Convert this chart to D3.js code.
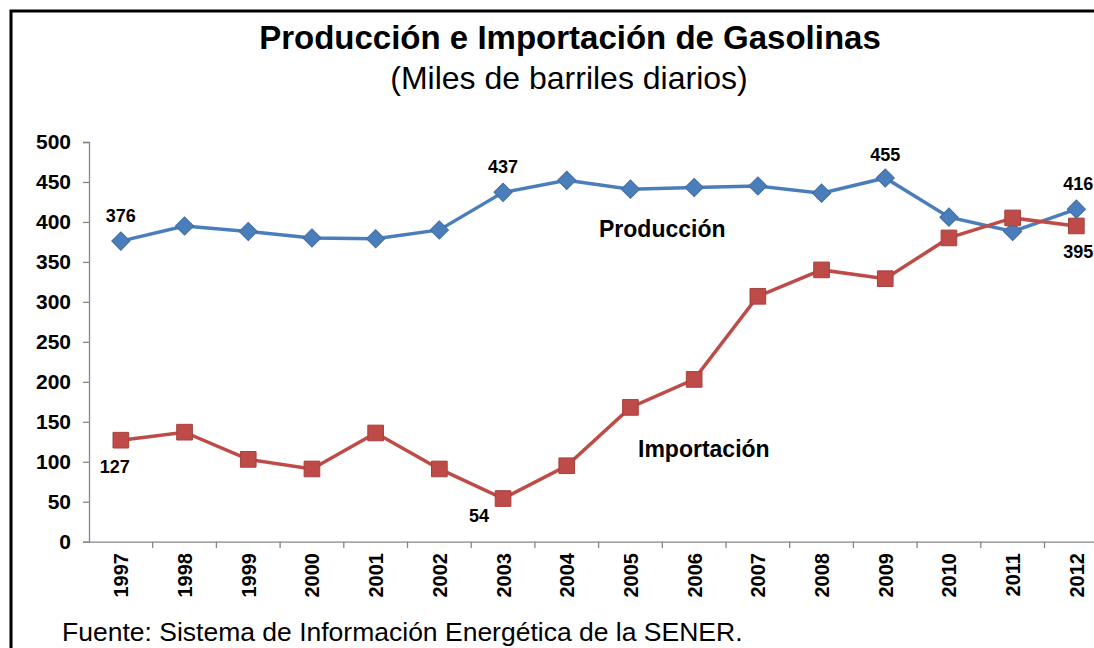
<!DOCTYPE html>
<html>
<head>
<meta charset="utf-8">
<script src="https://cdn.jsdelivr.net/npm/d3@7"></script>
<style>
body { margin: 0; background: #fff; }
svg text { font-family: "Liberation Sans", Arial, sans-serif; }
</style>
</head>
<body>
<script>
// data
var years = ['1997','1998','1999','2000','2001','2002','2003','2004','2005','2006','2007','2008','2009','2010','2011','2012'];
var produccion = [376, 395, 388, 380, 379, 390, 437, 452, 441, 443, 445, 436, 455, 406, 388, 416];
var importacion = [127, 137, 103, 91, 136, 91, 54, 95, 168, 203, 307, 340, 329, 380, 405, 395];
var yTicks = [0, 50, 100, 150, 200, 250, 300, 350, 400, 450, 500];

var width = 1094, height = 648;
var svg = d3.select('body').append('svg')
	.attr('width', width)
	.attr('height', height);

// frame (right and bottom edges fall outside the picture)
svg.append('path')
	.attr('d', 'M11,' + height + 'V11H' + width)
	.attr('fill', 'none')
	.attr('stroke', '#000')
	.attr('stroke-width', 3);

svg.append('text')
	.attr('x', 570).attr('y', 49)
	.attr('text-anchor', 'middle')
	.attr('font-size', 33).attr('font-weight', 'bold')
	.text('Producción e Importación de Gasolinas');
svg.append('text')
	.attr('x', 569).attr('y', 89)
	.attr('text-anchor', 'middle')
	.attr('font-size', 32)
	.text('(Miles de barriles diarios)');

var x = d3.scaleBand().domain(years).range([89, 89 + 16 * 63.7]);
var y = d3.scaleLinear().domain([0, 500]).range([541.7, 142]);
var cx = function(d, i) { return x(years[i]) + x.bandwidth() / 2; };

// axes
var yAxis = svg.append('g')
	.attr('transform', 'translate(89,0)')
	.call(d3.axisLeft(y).tickValues(yTicks).tickSize(6).tickPadding(12));
var xAxis = svg.append('g')
	.attr('transform', 'translate(0,541.7)')
	.call(d3.axisBottom(x).tickSize(0).tickFormat(''));
[yAxis, xAxis].forEach(function(a) {
	a.select('.domain').attr('stroke', '#868686').attr('stroke-width', 1.3);
	a.selectAll('.tick line').attr('stroke', '#868686').attr('stroke-width', 1.3);
});
yAxis.selectAll('.tick text')
	.attr('font-size', 21).attr('font-weight', 'bold').attr('fill', '#000')
	.attr('font-family', '"Liberation Sans", Arial, sans-serif');

// band boundary ticks and rotated year labels
var xg = svg.append('g');
xg.selectAll('line').data(years).enter().append('line')
	.attr('x1', function(d) { return x(d) + x.bandwidth(); })
	.attr('x2', function(d) { return x(d) + x.bandwidth(); })
	.attr('y1', 541.7).attr('y2', 548)
	.attr('stroke', '#868686').attr('stroke-width', 1.3);
xg.selectAll('text').data(years).enter().append('text')
	.attr('transform', function(d) {
		return 'translate(' + (x(d) + x.bandwidth() / 2 + 7.5) + ',553) rotate(-90)';
	})
	.attr('text-anchor', 'end')
	.attr('font-size', 20).attr('font-weight', 'bold')
	.text(function(d) { return d; });

var line = d3.line().x(cx).y(function(d) { return y(d); });

function series(vals, color, symbol, size, rot) {
	svg.append('path')
		.datum(vals)
		.attr('d', line)
		.attr('fill', 'none')
		.attr('stroke', color)
		.attr('stroke-width', 3.5);
	svg.append('g').selectAll('path').data(vals).enter().append('path')
		.attr('d', d3.symbol().type(symbol).size(size))
		.attr('transform', function(d, i) {
			return 'translate(' + cx(d, i) + ',' + y(d) + ') rotate(' + rot + ')';
		})
		.attr('fill', color)
		.attr('stroke', d3.color(color).darker(0.4))
		.attr('stroke-width', 1);
}
series(produccion, '#4a7ebb', d3.symbolSquare, 165, 45);
series(importacion, '#be4b48', d3.symbolSquare, 245, 0);

// value labels
var labels = [
	{ s: produccion, i: 0, dx: 0, dy: -19 },
	{ s: produccion, i: 6, dx: 0, dy: -19 },
	{ s: produccion, i: 12, dx: 0, dy: -17 },
	{ s: produccion, i: 15, dx: 2, dy: -19 },
	{ s: importacion, i: 0, dx: -6, dy: 33 },
	{ s: importacion, i: 6, dx: -24, dy: 23 },
	{ s: importacion, i: 15, dx: 2, dy: 32 }
];
svg.append('g').selectAll('text').data(labels).enter().append('text')
	.attr('x', function(d) { return cx(null, d.i) + d.dx; })
	.attr('y', function(d) { return y(d.s[d.i]) + d.dy; })
	.attr('text-anchor', 'middle')
	.attr('font-size', 18).attr('font-weight', 'bold')
	.text(function(d) { return d.s[d.i]; });

// series names
svg.append('text').attr('x', 599).attr('y', 237)
	.attr('font-size', 23).attr('font-weight', 'bold').text('Producción');
svg.append('text').attr('x', 638).attr('y', 457)
	.attr('font-size', 23).attr('font-weight', 'bold').text('Importación');

svg.append('text').attr('x', 62).attr('y', 641)
	.attr('font-size', 26.5).text('Fuente: Sistema de Información Energética de la SENER.');
</script>
</body>
</html>
